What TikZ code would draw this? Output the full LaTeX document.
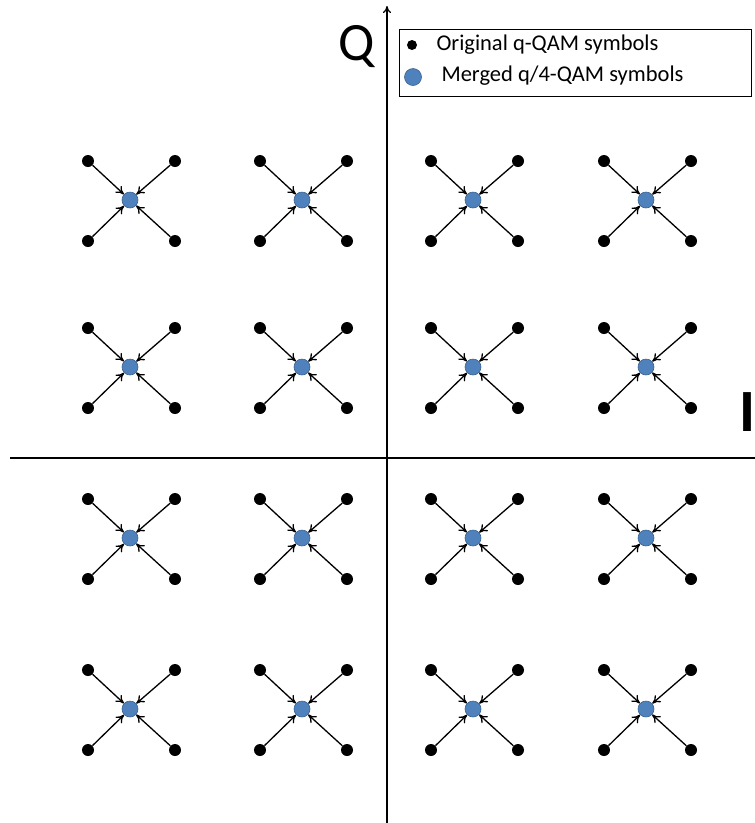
\documentclass[tikz,border=0pt]{standalone}
\usepackage{fontspec}
\setmainfont{Carlito}
\usetikzlibrary{arrows.meta,positioning}
\definecolor{symblue}{HTML}{4F81BD}
\definecolor{symedge}{HTML}{3A6290}

\begin{document}
\begin{tikzpicture}[x=1pt,y=-1pt,
  orig/.style={circle,fill=black,inner sep=0pt,minimum size=12pt},
  merged/.style={circle,fill=symblue,draw=symedge,line width=0.6pt,inner sep=0pt,minimum size=16pt},
  merge/.style={-{To[length=8pt,width=9pt]},line width=1.3pt},
  axis/.style={line width=1.3pt}]
\useasboundingbox (0,0) rectangle (755,823);

% axes
\coordinate (Qbot) at (387,823);
\coordinate (Qtop) at (387,6);
\coordinate (Ileft) at (10,458);
\coordinate (Iright) at (755,458);
\draw[axis,-{To[length=7pt,width=8pt]}] (Qbot) -- (Qtop);
\draw[axis] (Ileft) -- (Iright);
\node[font=\fontsize{54}{54}\selectfont] (Qlab) at (357,47) {Q};
\node[font=\fontsize{60}{60}\selectfont\bfseries] (Ilab) at (747,412) {I};

% clusters: four original symbols merge into one
\foreach \cx [count=\i] in {130,302,473,646}
  \foreach \cy [count=\j] in {200,367,538,709} {
    \node[merged] (m\i\j) at (\cx,\cy) {};
    \foreach \dx/\dy/\k in {-42/-39/a, 45/-39/b, -42/41/c, 45/41/d} {
      \node[orig] (o\i\j\k) at (\cx+\dx,\cy+\dy) {};
      \draw[merge] (o\i\j\k) -- (m\i\j);
    }
  }

% legend
\node[draw,line width=1pt,minimum width=352pt,minimum height=67pt] (legend) at (575,62.5) {};
\node[orig,minimum size=10pt] (lorig) at (412,45) {};
\node[merged,minimum size=17pt] (lmerged) at (413,77) {};
\node[anchor=west,font=\fontsize{22.5}{22.5}\selectfont] (ltxt1) at (433,45) {Original q-QAM symbols};
\node[anchor=west,font=\fontsize{22.5}{22.5}\selectfont] (ltxt2) at (438,76) {Merged q/4-QAM symbols};
\end{tikzpicture}
\end{document}
